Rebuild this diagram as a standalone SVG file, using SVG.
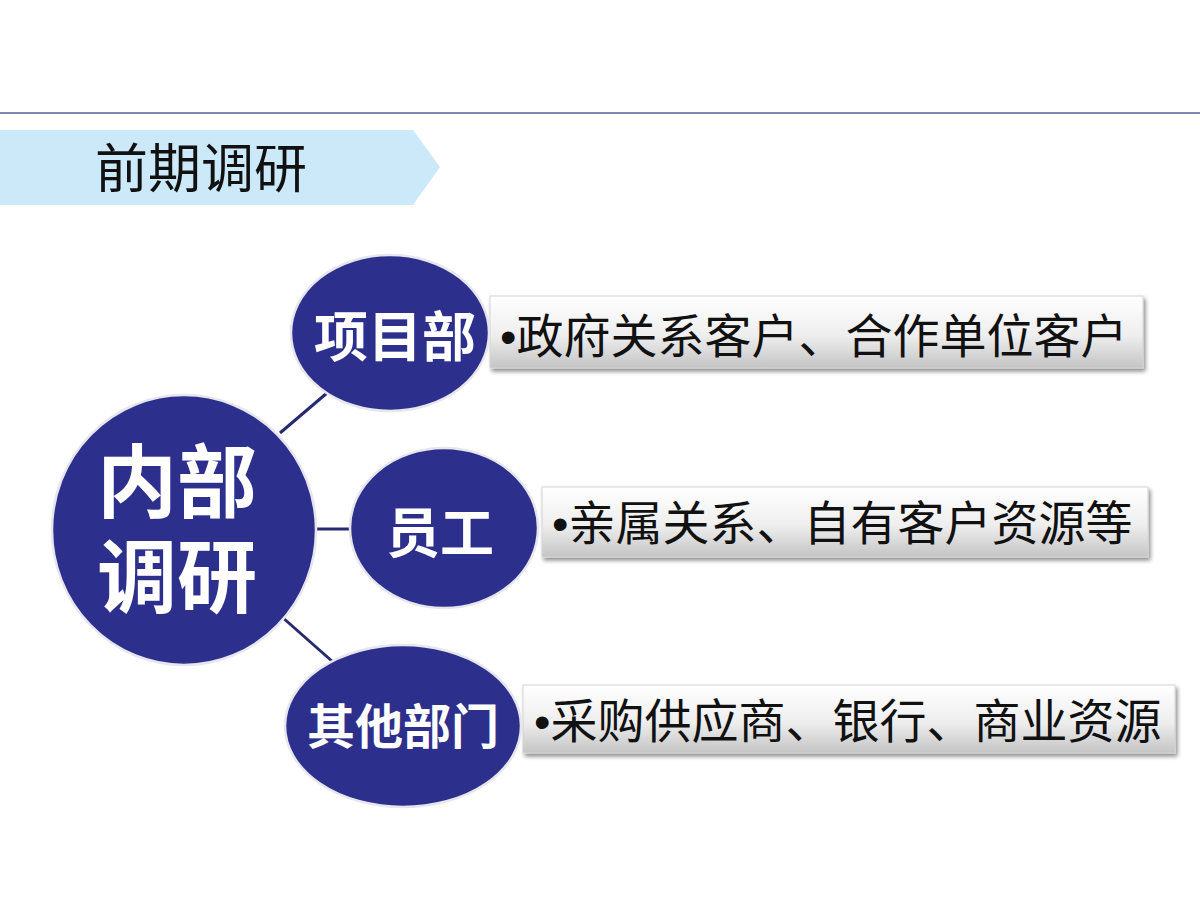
<svg xmlns="http://www.w3.org/2000/svg" width="1200" height="900" viewBox="0 0 1200 900">
<defs>
<linearGradient id="boxg" x1="0" y1="0" x2="0" y2="1">
<stop offset="0" stop-color="#ffffff"/>
<stop offset="0.55" stop-color="#eeeeee"/>
<stop offset="1" stop-color="#c4c4c4"/>
</linearGradient>
<filter id="sh" x="-5%" y="-20%" width="110%" height="150%">
<feGaussianBlur in="SourceAlpha" stdDeviation="2"/>
<feOffset dx="2" dy="3" result="b"/>
<feComponentTransfer><feFuncA type="linear" slope="0.45"/></feComponentTransfer>
<feMerge><feMergeNode/><feMergeNode in="SourceGraphic"/></feMerge>
</filter>
</defs>
<style>
.node{fill:#2d2f8c;stroke:#e6e6ee;stroke-width:2.5}
.ntext{font-family:"Noto Sans CJK SC","Noto Sans",sans-serif;font-weight:700;fill:#ffffff;text-anchor:middle}
.box{fill:url(#boxg);stroke:#d4d4d4;stroke-width:1}
.btext{font-family:"Noto Sans CJK SC","Noto Sans",sans-serif;font-size:47px;fill:#111111}
.bul{font-family:"Liberation Sans",sans-serif}
.conn{stroke:#262a6e;stroke-width:3;fill:none}
</style>
<rect width="1200" height="900" fill="#ffffff"/>
<line x1="0" y1="113" x2="1200" y2="113" stroke="#5d5d9c" stroke-width="1.5"/>
<g id="title">
<polygon points="0,130 413,130 440,167 413,205 0,205" fill="#cce9f9"/>
<text x="95" y="188" font-family="'Noto Sans CJK SC','Noto Sans',sans-serif" font-size="53" fill="#111111">前期调研</text>
</g>
<g id="connectors">
<line class="conn" x1="280" y1="433" x2="327" y2="393"/>
<line class="conn" x1="314" y1="529" x2="352" y2="529"/>
<line class="conn" x1="282" y1="617" x2="333" y2="662"/>
</g>
<g id="box1">
<rect class="box" x="490" y="296" width="653" height="72" filter="url(#sh)"/>
<text class="btext" x="500" y="353"><tspan class="bul">•</tspan>政府关系客户、合作单位客户</text>
</g>
<g id="box2">
<rect class="box" x="542" y="487" width="606" height="70" filter="url(#sh)"/>
<text class="btext" x="552" y="540"><tspan class="bul">•</tspan>亲属关系、自有客户资源等</text>
</g>
<g id="box3">
<rect class="box" x="523" y="685" width="652" height="68" filter="url(#sh)"/>
<text class="btext" x="534" y="738"><tspan class="bul">•</tspan>采购供应商、银行、商业资源</text>
</g>
<g id="center">
<ellipse class="node" cx="184" cy="530" rx="132" ry="135"/>
<text class="ntext" font-size="80"><tspan x="177" y="511">内部</tspan><tspan x="177" y="606">调研</tspan></text>
</g>
<g id="xiangmubu">
<ellipse class="node" cx="390" cy="333" rx="99" ry="78"/>
<text class="ntext" x="395" y="357" font-size="54">项目部</text>
</g>
<g id="yuangong">
<ellipse class="node" cx="444" cy="528" rx="94" ry="80"/>
<text class="ntext" x="440" y="553" font-size="54">员工</text>
</g>
<g id="qitabumen">
<ellipse class="node" cx="403" cy="726" rx="118" ry="81"/>
<text class="ntext" x="403" y="744" font-size="48">其他部门</text>
</g>
</svg>
